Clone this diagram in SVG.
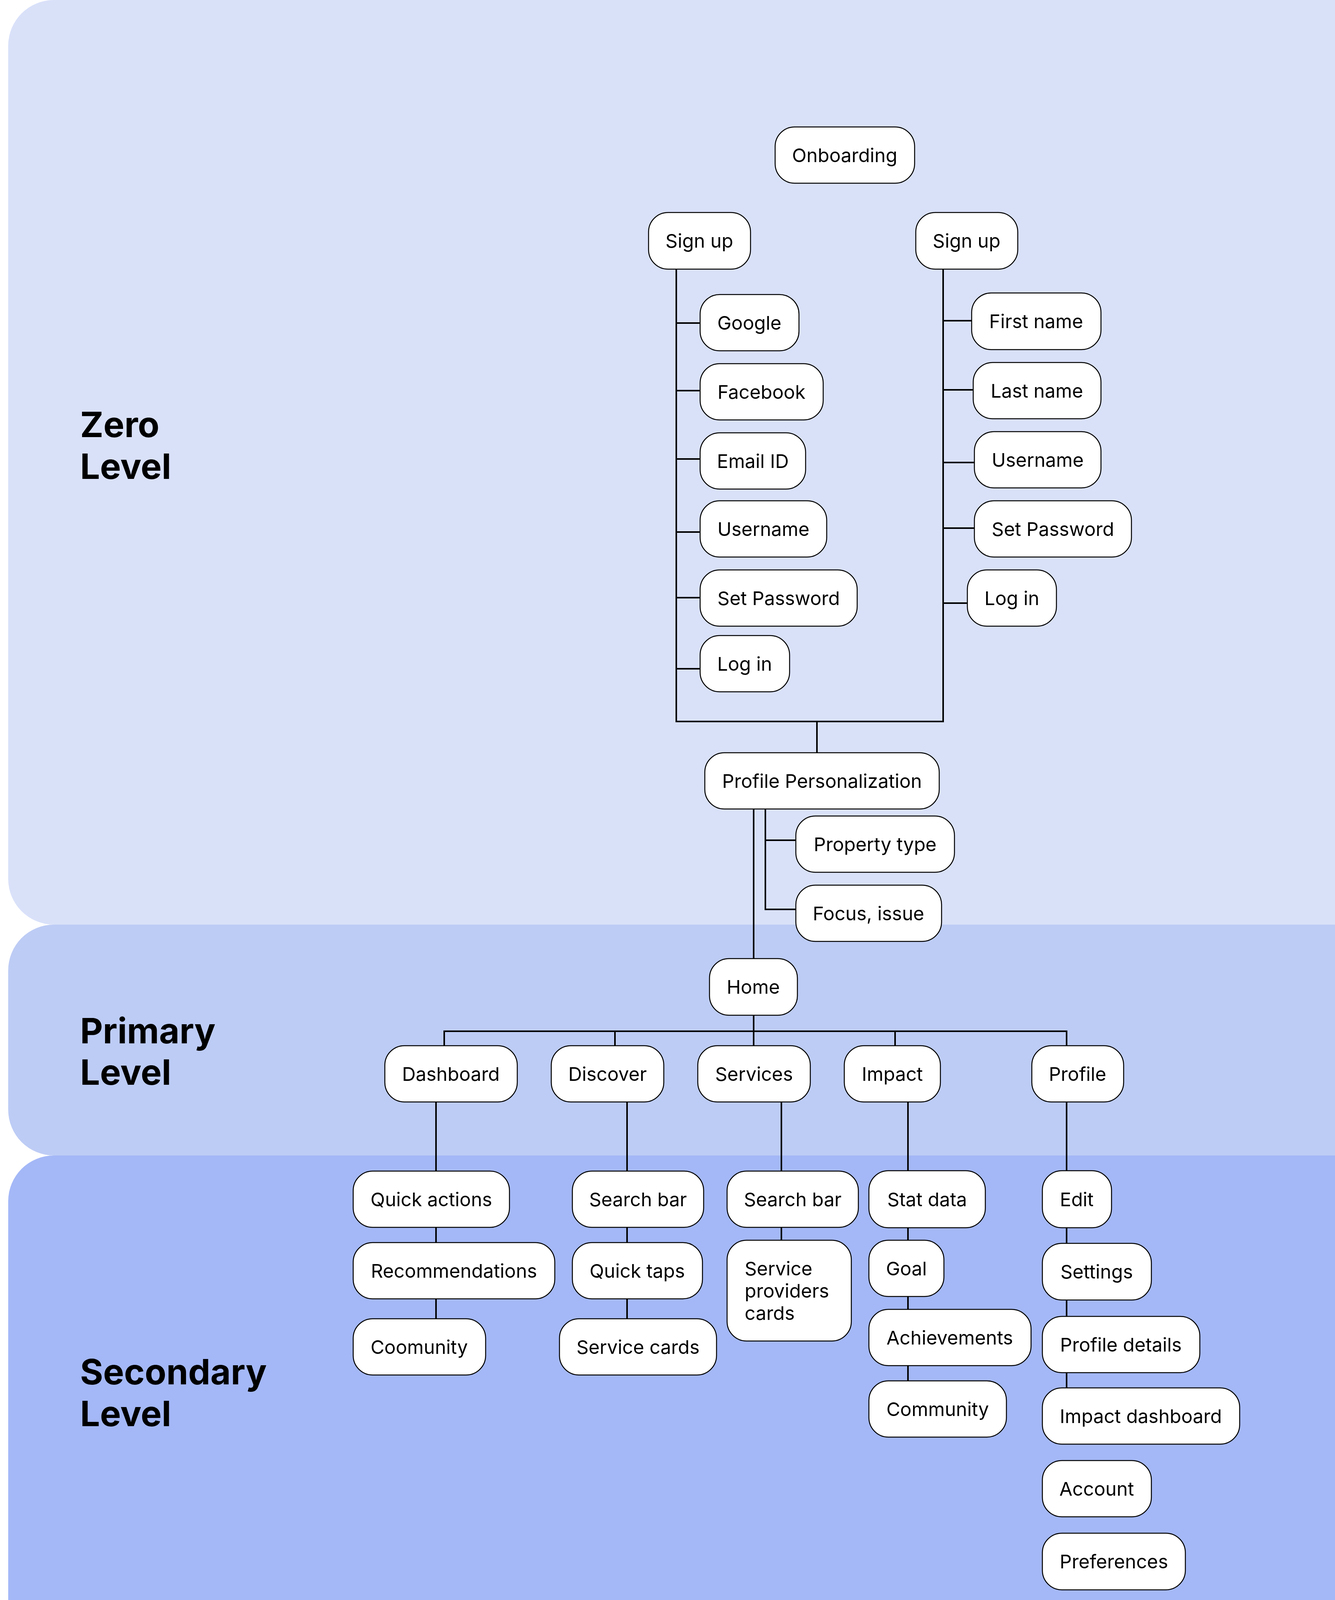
<svg xmlns="http://www.w3.org/2000/svg" width="3417" height="4533" viewBox="0 0 3417 4533">
<style>
.band{stroke:none}
.node rect{fill:#fff;stroke:#000;stroke-width:2.5}
.node text{font-family:Inter,"Noto Sans","Liberation Sans",sans-serif;font-size:48.5px;fill:#000;text-anchor:middle}
.node text.left{text-anchor:start}
.conn line{stroke:#000;stroke-width:4;stroke-linecap:square}
.lvl{font-family:Inter,"Liberation Sans",sans-serif;font-weight:700;font-size:90px;fill:#000}
</style>
<rect width="3417" height="4533" fill="#fff"/>
<g id="bands">
<rect class="band" x="21" y="0" width="3600" height="2367" rx="117" fill="#D9E1F9"/>
<rect class="band" x="21" y="2367" width="3600" height="591" rx="117" fill="#BDCCF5"/>
<rect class="band" x="21" y="2958" width="3600" height="1575" rx="117" fill="#A4B8F7"/>
</g>
<g id="level-labels">
<text class="lvl" x="205" y="1119">Zero</text>
<text class="lvl" x="205" y="1226">Level</text>
<text class="lvl" x="205" y="2671">Primary</text>
<text class="lvl" x="205" y="2777">Level</text>
<text class="lvl" x="205" y="3544">Secondary</text>
<text class="lvl" x="205" y="3651">Level</text>
</g>
<g id="connectors" class="conn">
<line x1="1731" y1="689" x2="1731" y2="1847"/>
<line x1="2414" y1="689" x2="2414" y2="1847"/>
<line x1="1731" y1="1847" x2="2414" y2="1847"/>
<line x1="2091" y1="1847" x2="2091" y2="1927"/>
<line x1="1731" y1="827" x2="1792" y2="827"/>
<line x1="1731" y1="1000" x2="1792" y2="1000"/>
<line x1="1731" y1="1175" x2="1792" y2="1175"/>
<line x1="1731" y1="1362" x2="1792" y2="1362"/>
<line x1="1731" y1="1530" x2="1792" y2="1530"/>
<line x1="1731" y1="1712" x2="1792" y2="1712"/>
<line x1="2414" y1="821" x2="2487" y2="821"/>
<line x1="2414" y1="998" x2="2491" y2="998"/>
<line x1="2414" y1="1184" x2="2494" y2="1184"/>
<line x1="2414" y1="1352" x2="2494" y2="1352"/>
<line x1="2414" y1="1544" x2="2476" y2="1544"/>
<line x1="1929" y1="2071" x2="1929" y2="2454"/>
<line x1="1959" y1="2071" x2="1959" y2="2328"/>
<line x1="1959" y1="2151" x2="2037" y2="2151"/>
<line x1="1959" y1="2328" x2="2037" y2="2328"/>
<line x1="1929" y1="2599" x2="1929" y2="2677"/>
<line x1="1137" y1="2640" x2="2730" y2="2640"/>
<line x1="1137" y1="2640" x2="1137" y2="2677"/>
<line x1="1574" y1="2640" x2="1574" y2="2677"/>
<line x1="2291" y1="2640" x2="2291" y2="2677"/>
<line x1="2730" y1="2640" x2="2730" y2="2677"/>
<line x1="1116" y1="2821" x2="1116" y2="3376"/>
<line x1="1605" y1="2821" x2="1605" y2="3376"/>
<line x1="2000" y1="2821" x2="2000" y2="3175"/>
<line x1="2324" y1="2821" x2="2324" y2="3535"/>
<line x1="2730" y1="2821" x2="2730" y2="3553"/>
</g>
<g id="n-onboarding" class="node"><rect x="1984" y="325" width="357" height="144" rx="50"/><text x="2162" y="415">Onboarding</text></g>
<g id="n-signup1" class="node"><rect x="1660" y="544" width="261" height="145" rx="50"/><text x="1790" y="634">Sign up</text></g>
<g id="n-signup2" class="node"><rect x="2344" y="544" width="261" height="145" rx="50"/><text x="2474" y="634">Sign up</text></g>
<g id="n-google" class="node"><rect x="1792" y="754" width="253" height="144" rx="50"/><text x="1918" y="844">Google</text></g>
<g id="n-facebook" class="node"><rect x="1792" y="931" width="315" height="144" rx="50"/><text x="1949" y="1021">Facebook</text></g>
<g id="n-email" class="node"><rect x="1792" y="1108" width="270" height="144" rx="50"/><text x="1927" y="1198">Email ID</text></g>
<g id="n-username1" class="node"><rect x="1792" y="1282" width="324" height="144" rx="50"/><text x="1954" y="1372">Username</text></g>
<g id="n-setpw1" class="node"><rect x="1792" y="1459" width="402" height="144" rx="50"/><text x="1993" y="1549">Set Password</text></g>
<g id="n-login1" class="node"><rect x="1792" y="1627" width="229" height="144" rx="50"/><text x="1906" y="1717">Log in</text></g>
<g id="n-firstname" class="node"><rect x="2487" y="750" width="331" height="145" rx="50"/><text x="2652" y="840">First name</text></g>
<g id="n-lastname" class="node"><rect x="2491" y="928" width="327" height="144" rx="50"/><text x="2654" y="1018">Last name</text></g>
<g id="n-username2" class="node"><rect x="2494" y="1105" width="324" height="144" rx="50"/><text x="2656" y="1195">Username</text></g>
<g id="n-setpw2" class="node"><rect x="2494" y="1282" width="402" height="144" rx="50"/><text x="2695" y="1372">Set Password</text></g>
<g id="n-login2" class="node"><rect x="2476" y="1459" width="228" height="144" rx="50"/><text x="2590" y="1549">Log in</text></g>
<g id="n-profile-personalization" class="node"><rect x="1804" y="1927" width="600" height="144" rx="50"/><text x="2104" y="2017">Profile Personalization</text></g>
<g id="n-property" class="node"><rect x="2037" y="2089" width="406" height="144" rx="50"/><text x="2240" y="2179">Property type</text></g>
<g id="n-focus" class="node"><rect x="2037" y="2266" width="373" height="144" rx="50"/><text x="2223" y="2356">Focus, issue</text></g>
<g id="n-home" class="node"><rect x="1816" y="2454" width="225" height="145" rx="50"/><text x="1928" y="2544">Home</text></g>
<g id="n-dashboard" class="node"><rect x="985" y="2677" width="339" height="144" rx="50"/><text x="1154" y="2767">Dashboard</text></g>
<g id="n-discover" class="node"><rect x="1411" y="2677" width="288" height="144" rx="50"/><text x="1555" y="2767">Discover</text></g>
<g id="n-services" class="node"><rect x="1786" y="2677" width="288" height="144" rx="50"/><text x="1930" y="2767">Services</text></g>
<g id="n-impact" class="node"><rect x="2161" y="2677" width="246" height="144" rx="50"/><text x="2284" y="2767">Impact</text></g>
<g id="n-profile" class="node"><rect x="2641" y="2677" width="235" height="144" rx="50"/><text x="2758" y="2767">Profile</text></g>
<g id="n-quickactions" class="node"><rect x="904" y="2998" width="400" height="144" rx="50"/><text x="1104" y="3088">Quick actions</text></g>
<g id="n-recommendations" class="node"><rect x="904" y="3181" width="516" height="144" rx="50"/><text x="1162" y="3271">Recommendations</text></g>
<g id="n-coomunity" class="node"><rect x="904" y="3376" width="339" height="144" rx="50"/><text x="1073" y="3466">Coomunity</text></g>
<g id="n-searchbar1" class="node"><rect x="1465" y="2998" width="336" height="144" rx="50"/><text x="1633" y="3088">Search bar</text></g>
<g id="n-quicktaps" class="node"><rect x="1465" y="3181" width="333" height="144" rx="50"/><text x="1631" y="3271">Quick taps</text></g>
<g id="n-servicecards" class="node"><rect x="1432" y="3376" width="402" height="144" rx="50"/><text x="1633" y="3466">Service cards</text></g>
<g id="n-searchbar2" class="node"><rect x="1861" y="2998" width="336" height="144" rx="50"/><text x="2029" y="3088">Search bar</text></g>
<g id="n-spcards" class="node"><rect x="1861" y="3175" width="318" height="258" rx="50"/><text class="left" x="1906" y="3265">Service</text><text class="left" x="1906" y="3322">providers</text><text class="left" x="1906" y="3379">cards</text></g>
<g id="n-statdata" class="node"><rect x="2224" y="2997" width="298" height="146" rx="50"/><text x="2373" y="3088">Stat data</text></g>
<g id="n-goal" class="node"><rect x="2224" y="3175" width="192" height="144" rx="50"/><text x="2320" y="3265">Goal</text></g>
<g id="n-achievements" class="node"><rect x="2224" y="3352" width="415" height="144" rx="50"/><text x="2431" y="3442">Achievements</text></g>
<g id="n-community" class="node"><rect x="2224" y="3535" width="352" height="144" rx="50"/><text x="2400" y="3625">Community</text></g>
<g id="n-edit" class="node"><rect x="2668" y="2997" width="177" height="146" rx="50"/><text x="2756" y="3088">Edit</text></g>
<g id="n-settings" class="node"><rect x="2668" y="3183" width="279" height="145" rx="50"/><text x="2807" y="3273">Settings</text></g>
<g id="n-profiledetails" class="node"><rect x="2668" y="3370" width="403" height="144" rx="50"/><text x="2869" y="3460">Profile details</text></g>
<g id="n-impactdashboard" class="node"><rect x="2668" y="3553" width="505" height="144" rx="50"/><text x="2920" y="3643">Impact dashboard</text></g>
<g id="n-account" class="node"><rect x="2668" y="3739" width="279" height="144" rx="50"/><text x="2807" y="3829">Account</text></g>
<g id="n-preferences" class="node"><rect x="2668" y="3925" width="366" height="145" rx="50"/><text x="2851" y="4015">Preferences</text></g>
<g id="n-resources" class="node"><rect x="2668" y="4110" width="330" height="145" rx="50"/><text x="2833" y="4200">Resources</text></g>
<g id="n-logout" class="node"><rect x="2668" y="4297" width="261" height="144" rx="50"/><text x="2798" y="4387">Log out</text></g>
</svg>
